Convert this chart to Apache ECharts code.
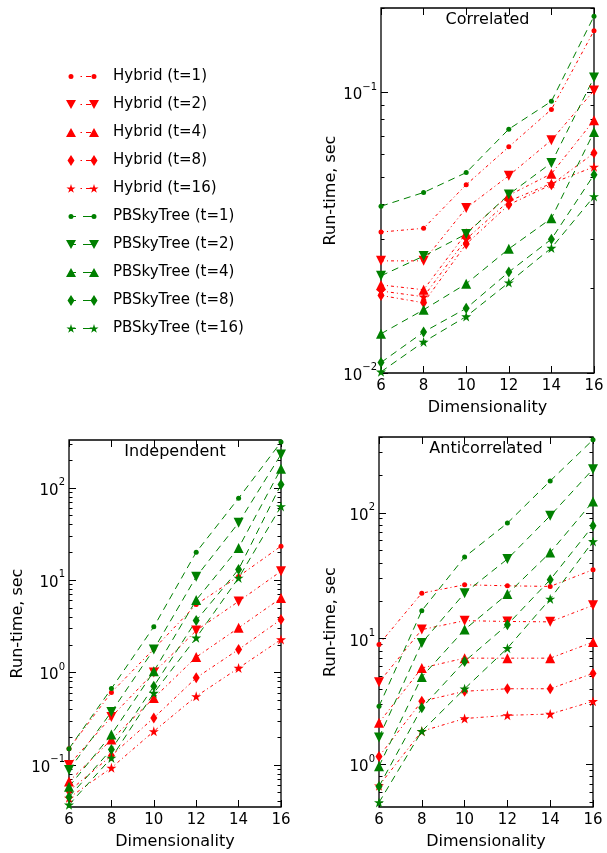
<!DOCTYPE html>
<html>
<head>
<meta charset="utf-8">
<script src="https://cdn.jsdelivr.net/npm/echarts@6/dist/echarts.min.js"></script>
<style>
  html, body { margin: 0; padding: 0; background: #fff; }
  #chart { width: 607px; height: 853px; }
</style>
</head>
<body>
<div id="chart"></div>
<script>
var dims = [6, 8, 10, 12, 14, 16];
var names = ['Hybrid (t=1)', 'Hybrid (t=2)', 'Hybrid (t=4)', 'Hybrid (t=8)', 'Hybrid (t=16)',
  'PBSkyTree (t=1)', 'PBSkyTree (t=2)', 'PBSkyTree (t=4)', 'PBSkyTree (t=8)', 'PBSkyTree (t=16)'];

// Correlated (sec)
var corrHybrid1 = [0.0318, 0.0328, 0.0469, 0.064, 0.087, 0.166];
var corrHybrid2 = [0.0251, 0.0251, 0.0387, 0.0505, 0.0676, 0.1016];
var corrHybrid4 = [0.0206, 0.0198, 0.0315, 0.043, 0.0513, 0.0796];
var corrHybrid8 = [0.0189, 0.0178, 0.0288, 0.0398, 0.0469, 0.0608];
var corrHybrid16 = [0.0196, 0.0187, 0.030, 0.041, 0.0474, 0.0543];
var corrPB1 = [0.0393, 0.044, 0.0518, 0.074, 0.093, 0.187];
var corrPB2 = [0.0222, 0.0261, 0.0313, 0.0433, 0.0561, 0.113];
var corrPB4 = [0.0138, 0.0168, 0.0208, 0.0277, 0.0356, 0.0723];
var corrPB8 = [0.0109, 0.014, 0.017, 0.0229, 0.030, 0.0509];
var corrPB16 = [0.0101, 0.0129, 0.0159, 0.021, 0.0279, 0.0426];

// Independent
var indHybrid1 = [0.15, 0.61, 1.8, 5.45, 11.0, 23.4];
var indHybrid2 = [0.10, 0.331, 1.0, 2.85, 5.9, 12.5];
var indHybrid4 = [0.066, 0.188, 0.53, 1.47, 3.05, 6.4];
var indHybrid8 = [0.052, 0.126, 0.323, 0.877, 1.78, 3.75];
var indHybrid16 = [0.044, 0.093, 0.231, 0.553, 1.12, 2.28];
var indPB1 = [0.15, 0.67, 3.13, 20.1, 77.3, 313];
var indPB2 = [0.088, 0.375, 1.78, 10.9, 41.9, 230];
var indPB4 = [0.058, 0.213, 1.03, 6.1, 22.4, 161];
var indPB8 = [0.045, 0.147, 0.71, 3.66, 13.1, 109];
var indPB16 = [0.037, 0.119, 0.60, 2.38, 10.6, 63];

// Anticorrelated
var antiHybrid1 = [9.0, 23.0, 26.8, 26.3, 26.0, 35.3];
var antiHybrid2 = [4.5, 11.8, 13.9, 13.7, 13.6, 18.4];
var antiHybrid4 = [2.15, 5.85, 7.0, 7.0, 7.0, 9.4];
var antiHybrid8 = [1.16, 3.18, 3.82, 4.0, 4.0, 5.3];
var antiHybrid16 = [0.68, 1.84, 2.32, 2.46, 2.52, 3.18];
var antiPB1 = [2.9, 16.7, 44.5, 82.8, 179, 380];
var antiPB2 = [1.64, 9.25, 23.0, 42.9, 94.7, 222];
var antiPB4 = [0.97, 4.97, 11.8, 22.6, 48.4, 123];
var antiPB8 = [0.67, 2.82, 6.6, 12.9, 29.4, 78.8];
var antiPB16 = [0.5, 1.84, 4.0, 8.4, 20.7, 59.2];

var font = 'DejaVu Sans';
var red = '#ff0000', green = '#008000';
var star = 'path://M0,-1L0.2245,-0.309L0.951,-0.309L0.363,0.118L0.588,0.809L0,0.382L-0.588,0.809L-0.363,0.118L-0.951,-0.309L-0.2245,-0.309Z';
var marks = [
  { symbol: 'circle', size: 5 },
  { symbol: 'path://M0,0L10,0L5,9Z', size: 10 },
  { symbol: 'path://M5,0L10,9L0,9Z', size: 10 },
  { symbol: 'diamond', size: [7, 11] },
  { symbol: star, size: 10 }
];

// legend glyphs: marker at both ends, matplotlib style
function glyph(kind, cx) {
  if (kind === 0) return 'M' + (cx + 2.5) + ',6A2.5,2.5,0,1,1,' + (cx - 2.5) + ',6A2.5,2.5,0,1,1,' + (cx + 2.5) + ',6Z';
  if (kind === 1) return 'M' + (cx - 5) + ',1.5L' + (cx + 5) + ',1.5L' + cx + ',10.5Z';
  if (kind === 2) return 'M' + cx + ',1.5L' + (cx + 5) + ',10.5L' + (cx - 5) + ',10.5Z';
  if (kind === 3) return 'M' + cx + ',0.5L' + (cx + 3.5) + ',6L' + cx + ',11.5L' + (cx - 3.5) + ',6Z';
  var p = [[0, -1], [0.2245, -0.309], [0.951, -0.309], [0.363, 0.118], [0.588, 0.809],
    [0, 0.382], [-0.588, 0.809], [-0.363, 0.118], [-0.951, -0.309], [-0.2245, -0.309]];
  return p.map(function (q, i) {
    return (i ? 'L' : 'M') + (cx + q[0] * 4.8).toFixed(2) + ',' + (6.4 + q[1] * 4.8).toFixed(2);
  }).join('') + 'Z';
}
function seg(x0, x1) {
  return 'M' + x0 + ',5.5L' + x1 + ',5.5L' + x1 + ',6.5L' + x0 + ',6.5Z';
}
function legendIcon(i) {
  var k = i % 5;
  var mid = i < 5 ? seg(14.5, 16) + seg(20, 25) : seg(5, 10) + seg(17, 26);
  return 'path://M0,0ZM33,12Z' + glyph(k, 5) + mid + glyph(k, 28);
}

var chart = echarts.init(document.getElementById('chart'));

function majorsMinors(min, max) {
  var major = [], minor = [];
  for (var e = -3; e <= 3; e++) {
    for (var k = 1; k <= 9; k++) {
      var v = k * Math.pow(10, e);
      if (v < min * 0.999 || v > max * 1.001) continue;
      if (k === 1) major.push(v); else minor.push(v);
    }
  }
  return { major: major, minor: minor };
}

function powLabel(v) {
  var e = Math.round(Math.log(v) / Math.LN10);
  return '{b|10}{s|' + String(e).replace('-', '\u2212') + '}';
}

var grids = [], xAxes = [], yAxes = [], series = [], texts = [];

function addPanel(title, box, min, max, nameGap, sets) {
  var gi = grids.length;
  grids.push({ left: box[0], top: box[1], width: box[2], height: box[3],
    show: true, borderColor: '#000', borderWidth: 1.3, backgroundColor: 'transparent' });
  var tk = majorsMinors(min, max);
  var xi = xAxes.length;
  xAxes.push({
    gridIndex: gi, type: 'value', min: 6, max: 16, interval: 2, position: 'bottom',
    name: 'Dimensionality', nameLocation: 'middle', nameGap: 27,
    nameTextStyle: { fontFamily: font, fontSize: 16, color: '#000' },
    axisLine: { show: false },
    axisTick: { inside: true, length: 7, lineStyle: { color: '#000' } },
    axisLabel: { fontFamily: font, fontSize: 15, color: '#000', margin: 6 },
    splitLine: { show: false }
  });
  xAxes.push({
    gridIndex: gi, type: 'value', min: 6, max: 16, interval: 2, position: 'top',
    axisLine: { show: false },
    axisTick: { inside: true, length: 7, lineStyle: { color: '#000' } },
    axisLabel: { show: false }, splitLine: { show: false }
  });
  var yi = yAxes.length;
  yAxes.push({
    gridIndex: gi, type: 'log', min: min, max: max, position: 'left',
    name: 'Run-time, sec', nameLocation: 'middle', nameGap: nameGap,
    nameTextStyle: { fontFamily: font, fontSize: 16, color: '#000' },
    axisLine: { show: false },
    axisTick: { inside: true, length: 7, customValues: tk.major, lineStyle: { color: '#000' } },
    axisLabel: {
      customValues: tk.major, margin: 4, formatter: powLabel,
      rich: {
        b: { fontFamily: font, fontSize: 15, color: '#000', lineHeight: 21, verticalAlign: 'bottom' },
        s: { fontFamily: font, fontSize: 10, color: '#000', lineHeight: 10, verticalAlign: 'top' }
      }
    },
    splitLine: { show: false }
  });
  [['left', tk.minor, 3.5], ['right', tk.major, 7], ['right', tk.minor, 3.5]].forEach(function (d) {
    yAxes.push({
      gridIndex: gi, type: 'log', min: min, max: max, position: d[0],
      axisLine: { show: false },
      axisTick: { inside: true, length: d[2], customValues: d[1], lineStyle: { color: '#000' } },
      axisLabel: { show: false }, splitLine: { show: false }
    });
  });
  sets.forEach(function (vals, i) {
    var hyb = i < 5;
    var m = marks[i % 5];
    series.push({
      name: names[i], type: 'line', xAxisIndex: xi, yAxisIndex: yi,
      data: dims.map(function (d, j) { return [d, vals[j]]; }),
      symbol: m.symbol, symbolSize: m.size, showSymbol: true,
      itemStyle: { color: hyb ? red : green },
      lineStyle: { color: hyb ? red : green, width: 1,
        type: hyb ? [3, 3, 1, 3] : [7, 5] },
      animation: false, clip: false
    });
  });
  texts.push({ type: 'text', x: box[0] + box[2] / 2, y: box[1] + 12,
    style: { text: title, font: '16px "DejaVu Sans"', fill: '#000', align: 'center', verticalAlign: 'middle' } });
}

addPanel('Correlated', [381, 8, 213, 365], 0.01, 0.2, 42,
  [corrHybrid1, corrHybrid2, corrHybrid4, corrHybrid8, corrHybrid16,
   corrPB1, corrPB2, corrPB4, corrPB8, corrPB16]);
addPanel('Independent', [69, 440, 212, 367], 0.035, 330, 43,
  [indHybrid1, indHybrid2, indHybrid4, indHybrid8, indHybrid16,
   indPB1, indPB2, indPB4, indPB8, indPB16]);
addPanel('Anticorrelated', [379, 437, 214, 370], 0.46, 400, 40,
  [antiHybrid1, antiHybrid2, antiHybrid4, antiHybrid8, antiHybrid16,
   antiPB1, antiPB2, antiPB4, antiPB8, antiPB16]);

chart.setOption({
  animation: false,
  backgroundColor: '#fff',
  legend: {
    data: names.map(function (n, i) { return { name: n, icon: legendIcon(i) }; }),
    orient: 'vertical', left: 66, top: 69, padding: 0,
    itemWidth: 33, itemHeight: 12, itemGap: 13,
    textStyle: { fontFamily: font, fontSize: 15, color: '#000', padding: [0, 0, 0, 9] }
  },
  grid: grids,
  xAxis: xAxes,
  yAxis: yAxes,
  series: series,
  graphic: texts
});
</script>
</body>
</html>
